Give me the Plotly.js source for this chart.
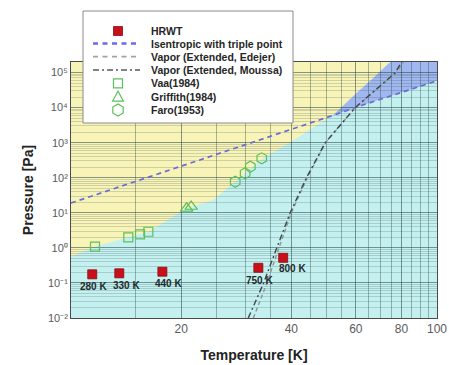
<!DOCTYPE html>
<html><head><meta charset="utf-8">
<script src="https://cdn.plot.ly/plotly-3.0.1.min.js"></script>
<style>html,body{margin:0;padding:0;background:#fff}#chart{width:449px;height:365px}</style>
</head><body><div id="chart"></div>
<script>
// ---- data ----
const hrwtT = [11.43, 13.55, 17.77, 32.5, 38.0];
const hrwtP = [0.176, 0.188, 0.209, 0.27, 0.52];
const hrwtLabels = ['280 K', '330 K', '440 K', '750 K', '800 K'];

const isenT = [10, 20, 40, 52, 63, 100];
const isenP = [19, 210, 2300, 6000, 12000, 58000];

const edejerT = [31.5, 34.3, 37.0, 40.0, 44.2, 49.6, 59.8, 77.5, 81];
const edejerP = [0.01, 0.1, 1, 10, 100, 1000, 10000, 100000, 200000];
const moussaT = [30.5, 33.6, 36.5, 39.7, 44.0, 49.5, 59.8, 77, 80];
const moussaP = [0.01, 0.1, 1, 10, 100, 1000, 10000, 100000, 200000];

const vaaT = [11.63, 14.34, 15.44, 16.27];
const vaaP = [1.08, 2.0, 2.43, 2.88];
const griffT = [20.7, 21.3];
const griffP = [13.4, 15.1];
const faroT = [28.1, 29.9, 30.9, 33.2];
const faroP = [77, 134, 206, 357];

// phase boundary between the yellow and cyan regions
const boundT = [10, 11.6, 14.3, 16.3, 20.7, 24.5, 28.2, 33.7, 40, 46, 52, 60, 67, 74.5];
const boundP = [0.56, 1.08, 2.0, 2.9, 13.4, 23, 80, 380, 1070, 2800, 6000, 25000, 70000, 200000];

const xTickVals = [20, 40, 60, 80, 100];
const xTickText = ['20', '40', '60', '80', '100'];
const xMinorVals = [15, 25, 30, 35, 45, 50, 55, 65, 70, 75, 85, 90, 95];
const yTickVals = [0.01, 0.1, 1, 10, 100, 1000, 10000, 100000];
const yTickText = ['10⁻²', '10⁻¹', '10⁰', '10¹', '10²', '10³', '10⁴', '10⁵'];

const legendNames = ['HRWT', 'Isentropic with triple point', 'Vapor (Extended, Edejer)', 'Vapor (Extended, Moussa)', 'Vaa(1984)', 'Griffith(1984)', 'Faro(1953)'];

// ---- layout helpers ----
const xMin = 10, xMax = 100, yTop = 200000;
const yMinor = [];
for (let e = -2; e <= 5; e++) for (let d = 2; d <= 9; d++) yMinor.push(d * Math.pow(10, e));

const FONT = 'Liberation Sans, Arial, sans-serif';
const GREEN = '#5cc05c';

// yellow region
let yellowPath = 'M' + boundT[0] + ',' + boundP[0];
for (let i = 1; i < boundT.length; i++) yellowPath += ' L' + boundT[i] + ',' + boundP[i];
yellowPath += ' L' + xMin + ',' + yTop + ' Z';

// blue region (between boundary and isentrope, right of their crossing)
const cross = 52;
let bluePath = '';
let first = true;
for (let i = 0; i < boundT.length; i++) {
  if (boundT[i] >= cross) { bluePath += (first ? 'M' : ' L') + boundT[i] + ',' + boundP[i]; first = false; }
}
bluePath += ' L' + xMax + ',' + yTop;
for (let i = isenT.length - 1; i >= 0; i--) {
  if (isenT[i] > cross) bluePath += ' L' + isenT[i] + ',' + isenP[i];
}
bluePath += ' Z';

// pixel -> paper for the hand-drawn legend
const PL = 71, PR = 437, PT = 62, PB = 318;
const px = x => (x - PL) / (PR - PL);
const py = y => (PB - y) / (PB - PT);

const shapes = [
  {type: 'path', xref: 'x', yref: 'y', path: yellowPath, fillcolor: '#f8f3b6', line: {width: 0}, layer: 'below'},
  {type: 'path', xref: 'x', yref: 'y', path: bluePath, fillcolor: '#a0b7f0', line: {width: 0}, layer: 'below'},
];

// legend box
shapes.push({type: 'rect', xref: 'paper', yref: 'paper', x0: px(83), x1: px(293), y0: py(123), y1: py(11),
  fillcolor: '#ffffff', line: {color: '#8a8a8a', width: 1}, layer: 'above'});
const rowY = [31, 43.5, 56.7, 70, 83.3, 96.7, 110];
const symX = 118;
// HRWT symbol
shapes.push({type: 'rect', xref: 'paper', yref: 'paper', x0: px(symX - 4.5), x1: px(symX + 4.5), y0: py(rowY[0] + 4.5), y1: py(rowY[0] - 4.5),
  fillcolor: '#c8101a', line: {color: '#8a0a10', width: 0.8}, layer: 'above'});
// lines
shapes.push({type: 'line', xref: 'paper', yref: 'paper', x0: px(93), x1: px(140), y0: py(rowY[1]), y1: py(rowY[1]),
  line: {color: '#6a6af0', width: 2.6, dash: '5px,4.5px'}, layer: 'above'});
shapes.push({type: 'line', xref: 'paper', yref: 'paper', x0: px(93), x1: px(140), y0: py(rowY[2]), y1: py(rowY[2]),
  line: {color: '#a2a2a2', width: 1.8, dash: '5px,4.5px'}, layer: 'above'});
shapes.push({type: 'line', xref: 'paper', yref: 'paper', x0: px(93), x1: px(140), y0: py(rowY[3]), y1: py(rowY[3]),
  line: {color: '#5a5a5a', width: 1.5, dash: '6px,3px,2px,3px'}, layer: 'above'});
// open square
shapes.push({type: 'rect', xref: 'paper', yref: 'paper', x0: px(symX - 4.5), x1: px(symX + 4.5), y0: py(rowY[4] + 4.5), y1: py(rowY[4] - 4.5),
  line: {color: GREEN, width: 1.2}, layer: 'above'});
// triangle
(function () {
  const c = rowY[5];
  const p = 'M' + px(symX - 5.5) + ',' + py(c + 4.5) + ' L' + px(symX) + ',' + py(c - 5.5) + ' L' + px(symX + 5.5) + ',' + py(c + 4.5) + ' Z';
  shapes.push({type: 'path', xref: 'paper', yref: 'paper', path: p, line: {color: GREEN, width: 1.2}, layer: 'above'});
})();
// hexagon
(function () {
  const c = rowY[6], r = 6;
  let p = '';
  for (let k = 0; k < 6; k++) {
    const a = Math.PI / 6 + k * Math.PI / 3;
    p += (k ? ' L' : 'M') + px(symX + r * Math.cos(a)) + ',' + py(c + r * Math.sin(a));
  }
  p += ' Z';
  shapes.push({type: 'path', xref: 'paper', yref: 'paper', path: p, line: {color: GREEN, width: 1.2}, layer: 'above'});
})();

const annotations = legendNames.map((n, i) => ({
  xref: 'paper', yref: 'paper', x: px(149), y: py(rowY[i]), xanchor: 'left', yanchor: 'middle',
  text: n, showarrow: false, font: {family: FONT, size: 10.5, color: '#262626', weight: 'bold'}
}));

const labelShift = [[1, -12], [7, -12], [6, -12], [1, -12.5], [9, -11]];
hrwtLabels.forEach((t, i) => annotations.push({
  xref: 'x', yref: 'y', x: Math.log10(hrwtT[i]), y: Math.log10(hrwtP[i]), text: t, showarrow: false,
  xshift: labelShift[i][0], yshift: labelShift[i][1],
  font: {family: FONT, size: 10, color: '#1e2b2b', weight: 'bold'}
}));

const traces = [
  {x: isenT, y: isenP, mode: 'lines', name: legendNames[1], line: {color: '#6b6bd6', width: 1.7, dash: '5px,4px'}},
  {x: edejerT, y: edejerP, mode: 'lines', name: legendNames[2], line: {color: '#8c9696', width: 1.4, dash: '4px,3px'}},
  {x: moussaT, y: moussaP, mode: 'lines', name: legendNames[3], line: {color: '#3e4a4a', width: 1.4, dash: '6px,3px,2px,3px'}},
  {x: vaaT, y: vaaP, mode: 'markers', name: legendNames[4], marker: {symbol: 'square-open', size: 9, color: GREEN, line: {width: 1.2}}},
  {x: griffT, y: griffP, mode: 'markers', name: legendNames[5], marker: {symbol: 'triangle-up-open', size: 11, color: GREEN, line: {width: 1.2}}},
  {x: faroT, y: faroP, mode: 'markers', name: legendNames[6], marker: {symbol: 'hexagon-open', size: 11, color: GREEN, line: {width: 1.2}}},
  {x: hrwtT, y: hrwtP, mode: 'markers', name: legendNames[0], marker: {symbol: 'square', size: 9, color: '#c8101a', line: {color: '#8a0a10', width: 0.8}}},
];
traces.forEach(t => { t.showlegend = false; t.hoverinfo = 'skip'; });

const layout = {
  width: 449, height: 365,
  margin: {l: PL, r: 449 - PR, t: PT, b: 365 - PB},
  paper_bgcolor: '#ffffff', plot_bgcolor: '#c4f0f0',
  showlegend: false,
  font: {family: FONT, color: '#555'},
  xaxis: {
    type: 'log', range: [1, 2], tickmode: 'array', tickvals: xTickVals, ticktext: xTickText,
    tickfont: {size: 12, color: '#5a5a5a'}, ticks: '',
    showgrid: true, gridcolor: 'rgba(40,70,70,0.55)', gridwidth: 1,
    minor: {tickmode: 'array', tickvals: xMinorVals, showgrid: true, gridcolor: 'rgba(40,70,70,0.38)', gridwidth: 1, ticks: ''},
    showline: true, mirror: true, linecolor: '#4a4a4a', linewidth: 1, zeroline: false,
    title: {text: '<b>Temperature [K]</b>', font: {size: 14, color: '#222'}, standoff: 14}
  },
  yaxis: {
    type: 'log', range: [-2, 5.3], tickmode: 'array', tickvals: yTickVals, ticktext: yTickText,
    tickfont: {size: 11, color: '#5a5a5a'}, ticks: '',
    showgrid: true, gridcolor: 'rgba(40,70,70,0.55)', gridwidth: 1,
    minor: {tickmode: 'array', tickvals: yMinor, showgrid: true, gridcolor: 'rgba(40,70,70,0.2)', gridwidth: 1, ticks: ''},
    showline: true, mirror: true, linecolor: '#4a4a4a', linewidth: 1, zeroline: false,
    title: {text: '<b>Pressure [Pa]</b>', font: {size: 14, color: '#222'}, standoff: 10}
  },
  shapes: shapes,
  annotations: annotations
};

Plotly.newPlot('chart', traces, layout, {displayModeBar: false, staticPlot: true});
</script>
</body></html>
